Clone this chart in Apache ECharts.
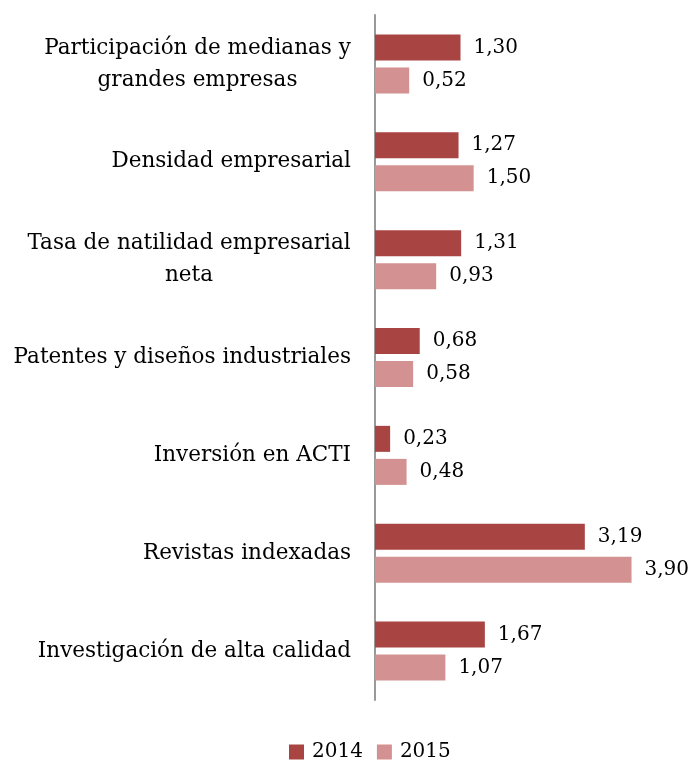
<!DOCTYPE html>
<html>
<head>
<meta charset="utf-8">
<script src="https://cdn.jsdelivr.net/npm/echarts@6/dist/echarts.min.js"></script>
<style>html,body{margin:0;padding:0;background:#fff}#c{width:692px;height:762px}</style>
</head>
<body>
<div id="c"></div>
<script>
const categories = [
  "Participación de medianas y\ngrandes empresas",
  "Densidad empresarial",
  "Tasa de natilidad empresarial\nneta",
  "Patentes y diseños industriales",
  "Inversión en ACTI",
  "Revistas indexadas",
  "Investigación de alta calidad"
];
const seriesNames = ["2014", "2015"];
const values2014 = [1.30, 1.27, 1.31, 0.68, 0.23, 3.19, 1.67];
const values2015 = [0.52, 1.50, 0.93, 0.58, 0.48, 3.90, 1.07];

const FONT = "DejaVu Serif";
const FS = 21.5;
const VFS = 20;
const ctx = document.createElement('canvas').getContext('2d');
ctx.font = FS + 'px "' + FONT + '"';
const rich = {};
const labelMap = {};
categories.forEach((c, i) => {
  if (c.indexOf('\n') >= 0) {
    const lines = c.split('\n');
    const w = Math.max(...lines.map(l => ctx.measureText(l).width));
    rich['m' + i] = {width: Math.ceil(w), align: 'center', fontFamily: FONT, fontSize: FS, color: '#000', lineHeight: 32};
    labelMap[c] = lines.map(l => '{m' + i + '|' + l + '}').join('\n');
  } else {
    labelMap[c] = c;
  }
});

const fmt = v => v.toFixed(2).replace('.', ',');
const chart = echarts.init(document.getElementById('c'));
chart.setOption({
  animation: false,
  grid: {left: 375, right: 21, top: 15, bottom: 62, containLabel: false},
  legend: {
    data: seriesNames, top: 742, left: 289, padding: 0,
    itemWidth: 15, itemHeight: 15, itemGap: 14, icon: 'rect',
    textStyle: {fontFamily: FONT, fontSize: VFS, color: '#000', padding: [0, 0, 0, 3]}
  },
  xAxis: {type: 'value', min: 0, max: 4.5, show: false},
  yAxis: {
    type: 'category', data: categories, inverse: true,
    axisLine: {show: true, lineStyle: {color: '#999', width: 2}},
    axisTick: {show: false},
    axisLabel: {
      margin: 24, fontFamily: FONT, fontSize: FS, color: '#000', lineHeight: 32,
      formatter: v => labelMap[v], rich: rich
    }
  },
  series: [
    {name: seriesNames[0], type: 'bar', data: values2014, barWidth: 26, barGap: '27%',
     itemStyle: {color: '#A84543'},
     label: {show: true, position: 'right', distance: 13, fontFamily: FONT, fontSize: VFS, color: '#000', formatter: p => fmt(p.value)}},
    {name: seriesNames[1], type: 'bar', data: values2015, barWidth: 26,
     itemStyle: {color: '#D49191'},
     label: {show: true, position: 'right', distance: 13, fontFamily: FONT, fontSize: VFS, color: '#000', formatter: p => fmt(p.value)}}
  ]
});
</script>
</body>
</html>
